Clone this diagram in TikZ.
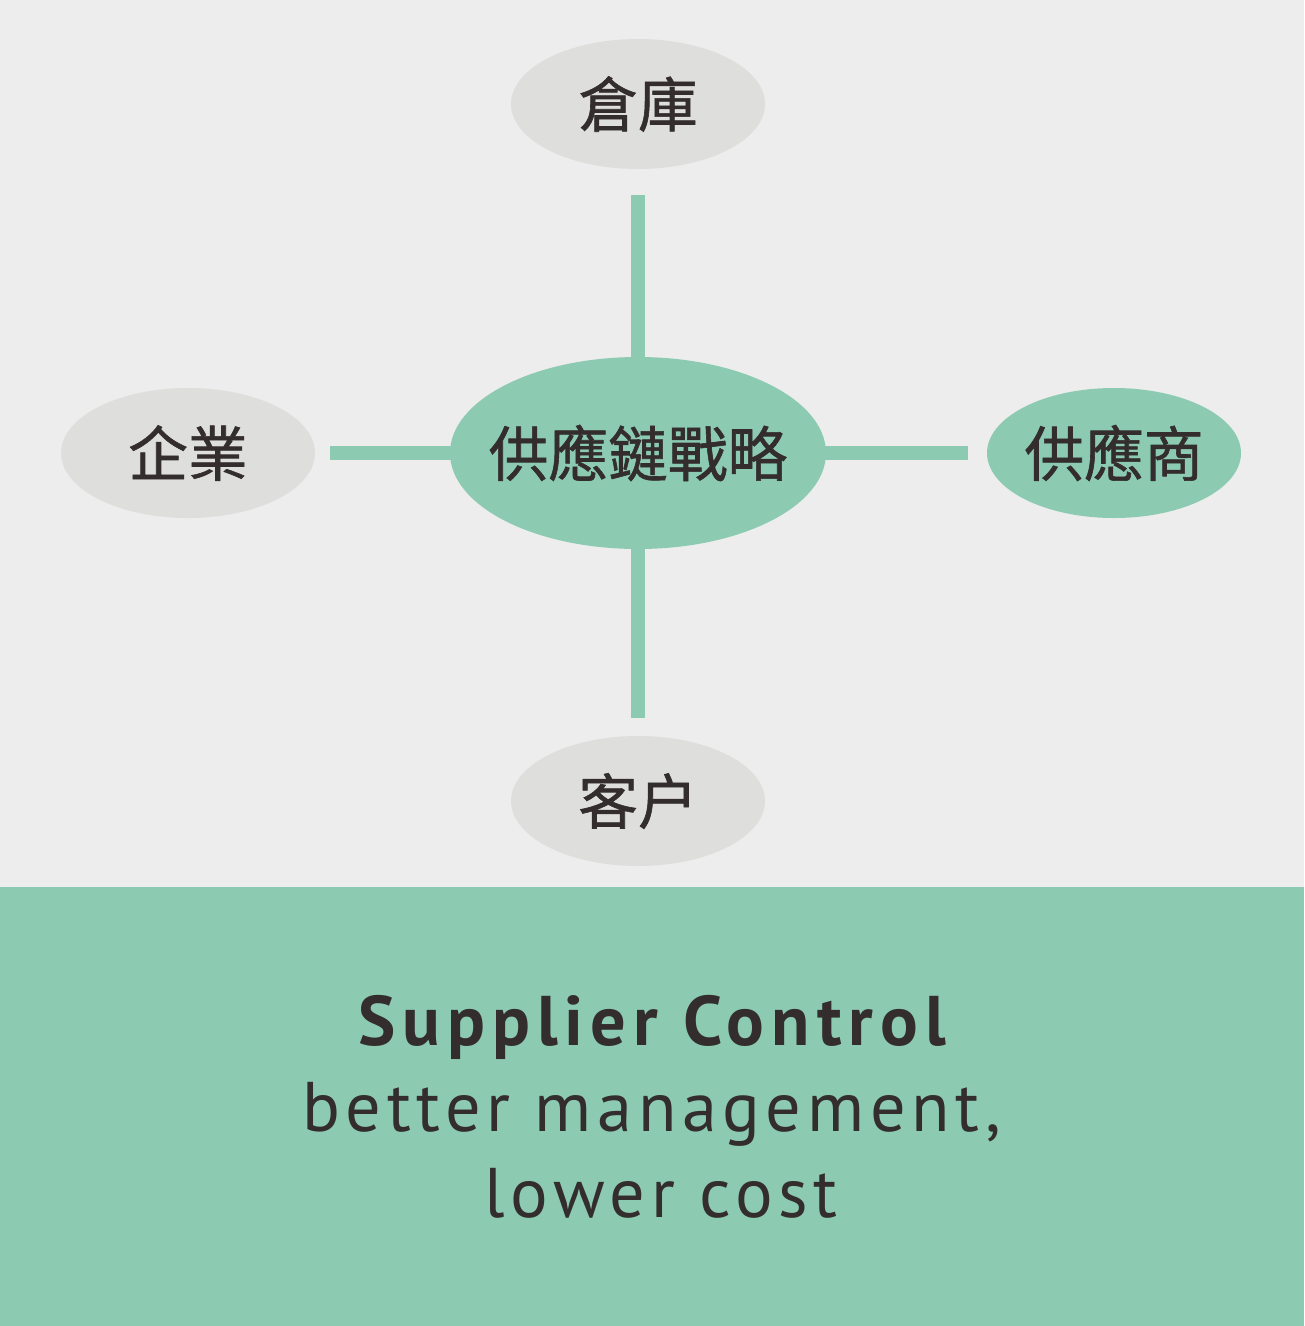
\documentclass[tikz,border=0pt]{standalone}
\usepackage{fontspec}
\setmainfont{PT Sans}[LetterSpace=8, BoldFeatures={LetterSpace=10}]
\newfontfamily\cjk{Noto Sans CJK TC}[FakeBold=1]
\usetikzlibrary{shapes,backgrounds}
\definecolor{paper}{HTML}{EDEDED}
\definecolor{mint}{HTML}{8CCBB1}
\definecolor{pale}{HTML}{DEDEDC}
\definecolor{ink}{HTML}{332E2D}
\tikzstyle{link} = [draw, color=mint, line width=0.28cm]
\tikzstyle{hub} = [ellipse, fill=mint, text=ink, minimum width=7.52cm, minimum height=3.84cm, inner sep=0pt, inner xsep=-0.4cm, font=\fontsize{34}{34}\selectfont\cjk]
\tikzstyle{leaf} = [ellipse, fill=pale, text=ink, minimum width=5.08cm, minimum height=2.6cm, inner sep=0pt, inner xsep=-0.2cm, font=\fontsize{34}{34}\selectfont\cjk]
\tikzstyle{band} = [rectangle, fill=mint, text=ink, minimum width=26.08cm, minimum height=8.78cm, inner sep=0pt, align=center, font=\fontsize{40}{49}\selectfont]

\begin{document}
\begin{tikzpicture}
	\useasboundingbox (0,0) rectangle (26.08,-26.52);
	\node [hub] (scm) at (12.76,-9.06) {供應鏈戰略};
	\node [leaf, above of = scm, node distance = 6.98cm] (store) {倉庫};
	\node [leaf, left of = scm, node distance = 9cm] (firm) {企業};
	\node [leaf, right of = scm, node distance = 9.52cm, fill=mint] (vendor) {供應商};
	\node [leaf, below of = scm, node distance = 6.96cm] (client) {客户};
	
	\node [band] (ctrl) at (13.04,-22.13) {{\bfseries Supplier Control}\\better management,\\\hspace*{0.36cm}lower cost};
	
	\begin{scope}[on background layer]
		\fill [paper] (0,0) rectangle (26.08,-26.52);
		\path [link, shorten >=0.52cm] (scm.center) to (store);
		\path [link, shorten >=0.3cm] (scm.center) to (firm);
		\path [link, shorten >=0.38cm] (scm.center) to (vendor);
		\path [link, shorten >=0.36cm] (scm.center) to (client);
	\end{scope}
\end{tikzpicture}
\end{document}
